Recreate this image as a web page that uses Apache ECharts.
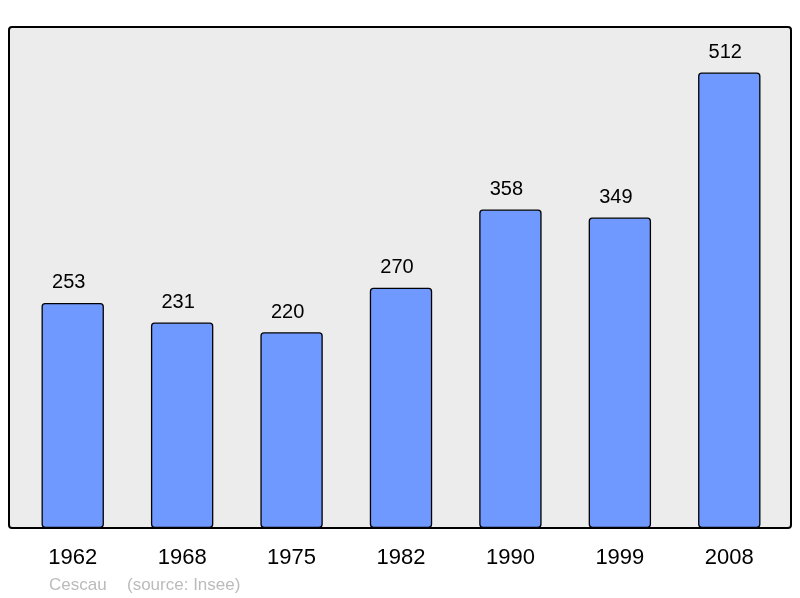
<!DOCTYPE html>
<html>
<head>
<meta charset="utf-8">
<script src="https://cdn.jsdelivr.net/npm/echarts@6/dist/echarts.min.js"></script>
<style>
html,body{margin:0;padding:0;background:#fff;}
#chart{width:800px;height:598px;}
</style>
</head>
<body>
<div id="chart"></div>
<script>
// données de population
const years = ['1962', '1968', '1975', '1982', '1990', '1999', '2008'];
const population = [253, 231, 220, 270, 358, 349, 512];
const commune = 'Cescau';
const source = '(source: Insee)';

const chart = echarts.init(document.getElementById('chart'));
const font = '"Liberation Sans", Arial, sans-serif';

const option = {
  animation: false,
  textStyle: {fontFamily: font},
  graphic: [
    {
      type: 'rect',
      z: -10,
      shape: {x: 9, y: 27, width: 782, height: 501, r: 3},
      style: {fill: '#ececec', stroke: '#000', lineWidth: 2}
    },
    {
      type: 'text',
      left: 49, top: 577,
      style: {text: commune, fill: '#bbbbbb', font: '17px ' + font}
    },
    {
      type: 'text',
      left: 127, top: 577,
      style: {text: source, fill: '#bbbbbb', font: '17px ' + font}
    }
  ],
  grid: {left: 18, right: 16, top: 27, bottom: 70},
  xAxis: {
    type: 'category',
    data: years,
    axisLine: {show: false},
    axisTick: {show: false},
    axisLabel: {color: '#000', fontSize: 22, margin: 19, fontFamily: font}
  },
  yAxis: {
    type: 'value',
    min: 0,
    max: 563.2,
    show: false,
    splitLine: {show: false}
  },
  series: [{
    type: 'bar',
    data: population,
    barWidth: '57%',
    itemStyle: {color: '#7099ff', borderColor: '#000', borderWidth: 1.3, borderRadius: 3},
    label: {show: true, position: 'top', distance: 10, offset: [-4, 0], color: '#000', fontSize: 20, fontFamily: font}
  }]
};
chart.setOption(option);
</script>
</body>
</html>
